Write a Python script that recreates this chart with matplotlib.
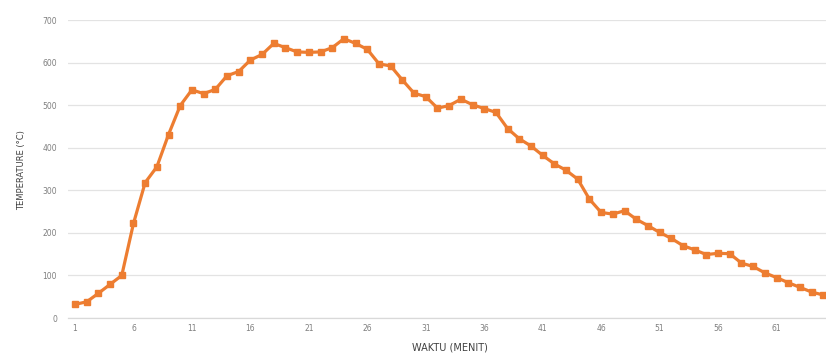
import numpy as np
import matplotlib.pyplot as plt

# data (one reading per minute)
waktu = np.arange(1, 66)
suhu = [32, 38, 58, 79, 100, 222, 318, 355, 431, 499,
        536, 527, 537, 569, 579, 606, 619, 645, 635, 625,
        624, 625, 635, 656, 645, 631, 597, 592, 559, 528,
        520, 493, 499, 514, 501, 492, 483, 445, 421, 404,
        382, 362, 347, 326, 279, 248, 244, 252, 232, 217,
        201, 187, 170, 160, 149, 152, 151, 129, 121, 106,
        95, 83, 72, 61, 54]
xticks = list(range(1, 66, 5))
yticks = list(range(0, 701, 100))

orange = "#ED7D31"
grey = "#7F7F7F"

fig = plt.figure(figsize=(8.26, 3.54), dpi=100)
W, H = 826, 354
ax = fig.add_axes([68 / W, (H - 318) / H, (826 - 68) / W, (318 - 20) / H])

ax.plot(waktu, suhu, color=orange, lw=2.3, marker="s", markersize=5,
        markerfacecolor=orange, markeredgecolor=orange, zorder=3)

ax.set_xlim(1 - 7 / 11.69, 65 + 2.7 / 11.69)
ax.set_ylim(0, 700)
ax.set_xticks(xticks)
ax.set_yticks(yticks)
ax.set_xticklabels([str(t) for t in xticks])
ax.tick_params(axis="x", length=0, labelsize=5.5, labelcolor=grey, pad=4)
ax.tick_params(axis="y", length=0, labelsize=5.5, labelcolor=grey, pad=8)
ax.grid(axis="y", color="#E3E3E3", lw=0.9)
ax.set_axisbelow(True)
for s in ["top", "right", "left"]:
    ax.spines[s].set_visible(False)
ax.spines["bottom"].set_color("#D9D9D9")
ax.spines["bottom"].set_linewidth(0.9)

fig.text(450 / W, 1 - 347 / H, "WAKTU (MENIT)", ha="center", va="center",
         fontsize=7, color="#404040")
fig.text(22 / W, 1 - 170 / H, "TEMPERATURE (°C)", ha="center", va="center",
         rotation=90, fontsize=6, color="#404040")

fig.savefig("out.png", dpi=100)
